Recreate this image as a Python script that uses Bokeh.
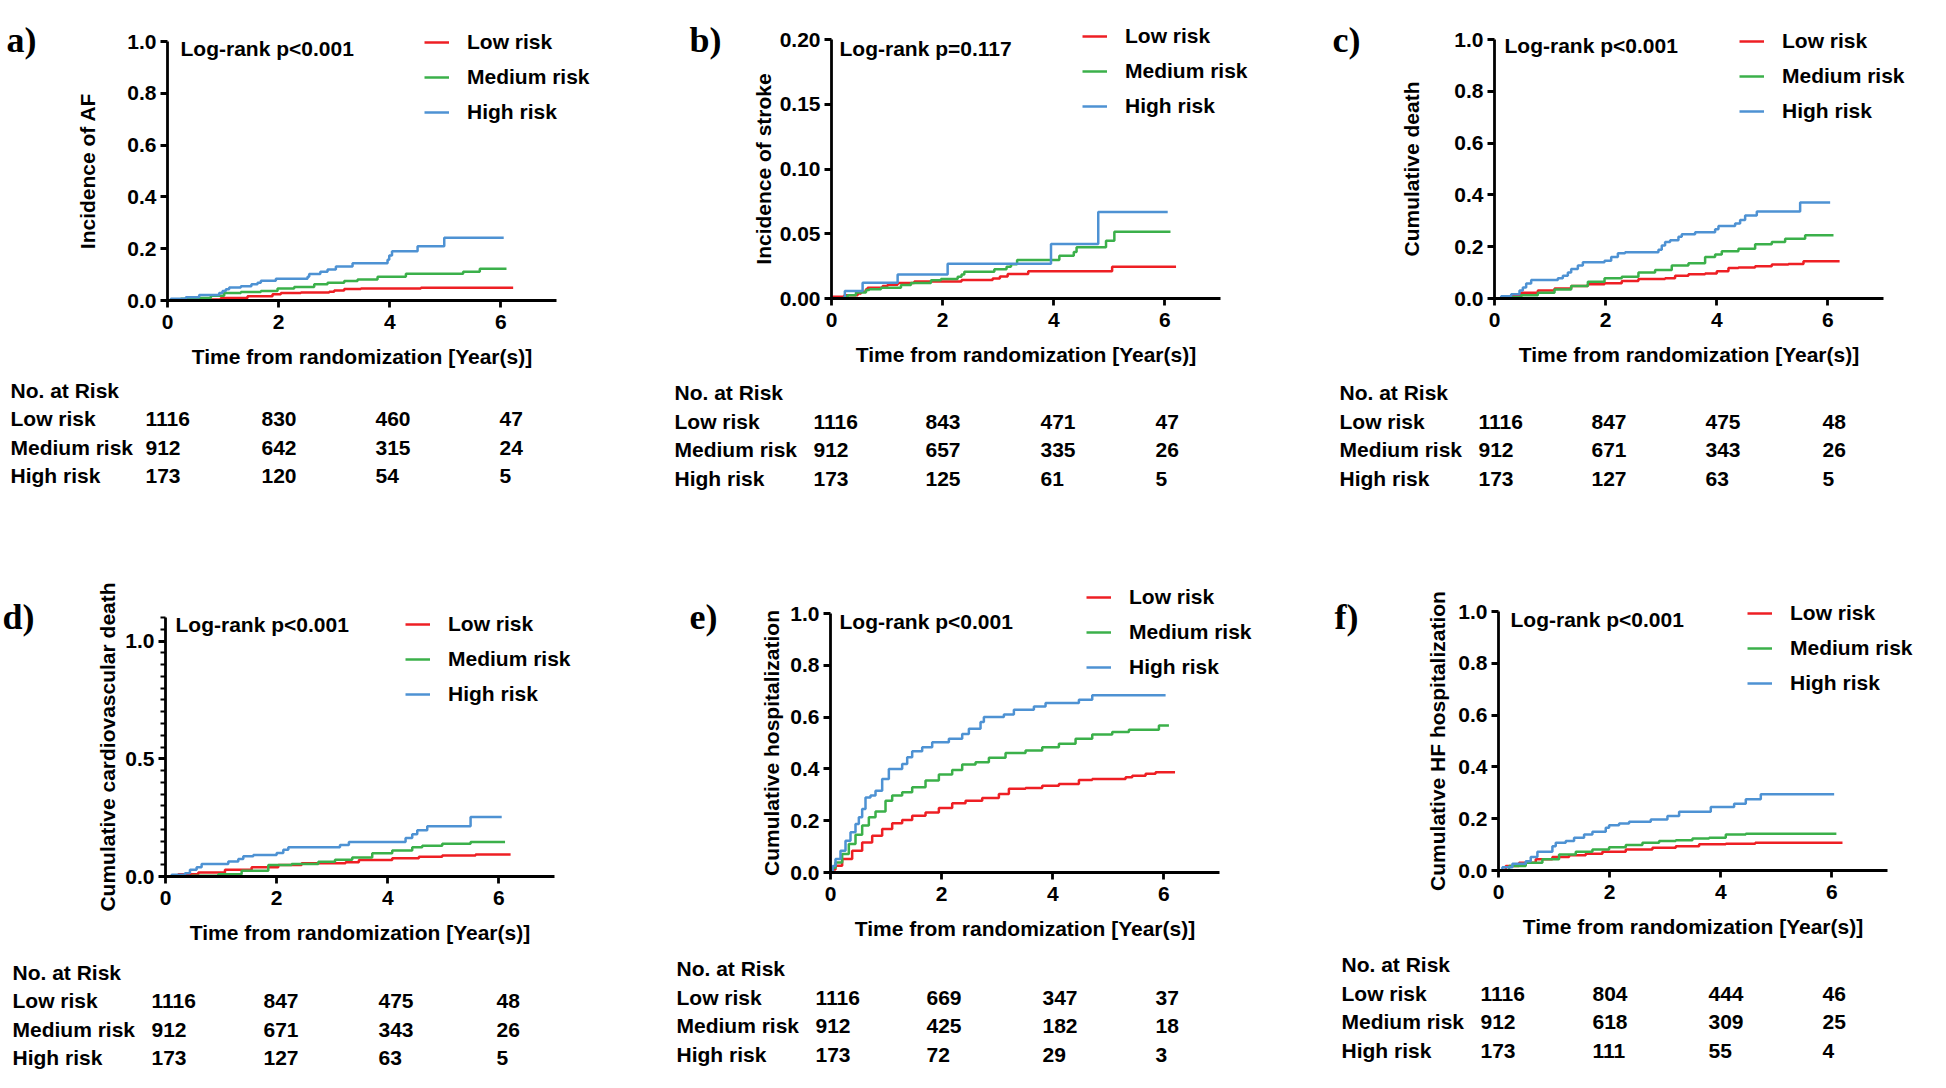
import math
from bokeh.plotting import figure
from bokeh.models import (Range1d, FixedTicker, PrintfTickFormatter, Label, LabelSet,
                          ColumnDataSource, Legend, LegendItem)
from bokeh.layouts import row, column
from bokeh.core.properties import value
from bokeh.embed import file_html
from bokeh.resources import INLINE

SANS = "Liberation Sans"
SERIF = "Liberation Serif"
FS = "21px"

groups = ["Low risk", "Medium risk", "High risk"]
colors = ["#EE1F24", "#3BB04A", "#4E92D3"]
time_ticks = [0, 2, 4, 6]
x_title = "Time from randomization [Year(s)]"

# ---------------- a) Incidence of AF ----------------
a_low_t = [0, 0.48, 0.96, 1.44, 1.89, 2.04, 2.40, 2.91, 3.00, 3.18, 3.48, 4.56, 6.22]
a_low_y = [0, 0.004, 0.01, 0.016, 0.024, 0.029, 0.031, 0.034, 0.039, 0.044, 0.046, 0.049, 0.049]
a_med_t = [0, 0.24, 0.48, 0.78, 1.02, 1.32, 1.68, 1.98, 2.28, 2.64, 2.88, 3.18, 3.42, 3.78, 4.29, 5.32, 5.62, 6.10]
a_med_y = [0, 0.007, 0.01, 0.018, 0.029, 0.033, 0.037, 0.046, 0.052, 0.063, 0.069, 0.075, 0.081, 0.092, 0.103, 0.111, 0.123, 0.123]
a_high_t = [0, 0.06, 0.33, 0.57, 0.93, 0.99, 1.05, 1.11, 1.32, 1.51, 1.62, 1.68, 1.95, 2.52, 2.55, 2.75, 2.88, 3.03,
            3.33, 3.96, 3.99, 4.04, 4.50, 4.98, 6.05]
a_high_y = [0, 0.007, 0.013, 0.021, 0.029, 0.037, 0.043, 0.05, 0.055, 0.063, 0.069, 0.076, 0.084, 0.092, 0.102, 0.111,
            0.12, 0.131, 0.144, 0.157, 0.174, 0.19, 0.209, 0.242, 0.242]
a_risk_low = [1116, 830, 460, 47]
a_risk_med = [912, 642, 315, 24]
a_risk_high = [173, 120, 54, 5]

# ---------------- b) Incidence of stroke ----------------
b_low_t = [0, 0.02, 0.23, 0.47, 0.53, 0.62, 0.65, 0.92, 1.01, 1.19, 1.49, 2.34, 2.90, 3.03, 3.17, 3.54, 5.05, 6.20]
b_low_y = [0, 0.0013, 0.0026, 0.0039, 0.0052, 0.0072, 0.0083, 0.0096, 0.0106, 0.0119, 0.0132, 0.0142, 0.0155, 0.017,
           0.019, 0.021, 0.0246, 0.0246]
b_med_t = [0, 0.23, 0.29, 0.44, 0.62, 0.68, 0.89, 1.25, 1.43, 1.79, 1.97, 2.27, 2.34, 2.39, 2.93, 3.15, 3.23, 3.34,
           4.10, 4.36, 4.41, 4.94, 5.09, 6.10]
b_med_y = [0, 0.0013, 0.0026, 0.0047, 0.0065, 0.0072, 0.0083, 0.0104, 0.0119, 0.014, 0.015, 0.0168, 0.0186, 0.0207,
           0.0225, 0.0246, 0.0264, 0.0298, 0.033, 0.036, 0.0396, 0.0445, 0.0515, 0.0515]
b_high_t = [0, 0.24, 0.56, 1.19, 2.09, 3.95, 4.80, 6.05]
b_high_y = [0, 0.0057, 0.0122, 0.0186, 0.0269, 0.042, 0.0668, 0.0668]
b_risk_low = [1116, 843, 471, 47]
b_risk_med = [912, 657, 335, 26]
b_risk_high = [173, 125, 61, 5]

# ---------------- c) Cumulative death ----------------
c_low_t = [0, 0.18, 0.48, 0.78, 1.08, 1.38, 1.68, 1.98, 2.29, 2.59, 3.07, 3.25, 3.49, 3.79, 4.00, 4.21, 4.39, 4.69,
           4.99, 5.29, 5.56, 6.21]
c_low_y = [0, 0.009, 0.022, 0.031, 0.039, 0.048, 0.055, 0.059, 0.068, 0.075, 0.078, 0.088, 0.094, 0.097, 0.105, 0.118,
           0.12, 0.125, 0.131, 0.133, 0.144, 0.144]
c_med_t = [0, 0.18, 0.48, 0.78, 1.08, 1.38, 1.68, 1.98, 2.29, 2.59, 2.89, 3.19, 3.49, 3.79, 3.97, 4.09, 4.39, 4.69,
           4.99, 5.23, 5.59, 6.10]
c_med_y = [0, 0.005, 0.013, 0.022, 0.035, 0.048, 0.065, 0.078, 0.084, 0.10, 0.11, 0.127, 0.136, 0.16, 0.17, 0.182,
           0.192, 0.209, 0.218, 0.231, 0.244, 0.244]
c_high_t = [0, 0.12, 0.30, 0.45, 0.51, 0.57, 0.66, 1.14, 1.23, 1.32, 1.38, 1.50, 1.59, 1.98, 2.10, 2.22, 2.35, 2.95,
            3.01, 3.07, 3.16, 3.31, 3.37, 3.61, 3.97, 4.03, 4.33, 4.42, 4.51, 4.72, 5.50, 6.04]
c_high_y = [0, 0.009, 0.016, 0.031, 0.042, 0.058, 0.071, 0.078, 0.088, 0.10, 0.114, 0.127, 0.14, 0.146, 0.16, 0.175,
            0.179, 0.188, 0.205, 0.218, 0.225, 0.238, 0.248, 0.256, 0.267, 0.28, 0.29, 0.303, 0.32, 0.336, 0.371, 0.371]
c_risk_low = [1116, 847, 475, 48]
c_risk_med = [912, 671, 343, 26]
c_risk_high = [173, 127, 63, 5]

# ---------------- d) Cumulative cardiovascular death ----------------
d_low_t = [0, 0.23, 0.59, 1.07, 1.55, 2.03, 2.45, 3.24, 3.48, 4.08, 4.56, 4.98, 5.58, 6.21]
d_low_y = [0, 0.01, 0.017, 0.029, 0.039, 0.049, 0.056, 0.06, 0.07, 0.077, 0.084, 0.089, 0.093, 0.093]
d_med_t = [0, 0.47, 0.95, 1.37, 1.85, 2.27, 2.75, 3.05, 3.36, 3.72, 4.08, 4.44, 4.62, 4.98, 5.49, 6.11]
d_med_y = [0, 0.003, 0.01, 0.024, 0.049, 0.053, 0.063, 0.071, 0.081, 0.099, 0.11, 0.124, 0.131, 0.139, 0.146, 0.146]
d_high_t = [0, 0.11, 0.35, 0.44, 0.56, 0.65, 1.13, 1.31, 1.40, 1.58, 2.00, 2.12, 2.21, 3.14, 3.30, 4.32, 4.44, 4.53,
            4.71, 5.49, 6.05]
d_high_y = [0, 0.007, 0.014, 0.029, 0.039, 0.053, 0.064, 0.074, 0.086, 0.091, 0.10, 0.114, 0.124, 0.134, 0.146, 0.163,
            0.179, 0.196, 0.213, 0.253, 0.253]
d_risk_low = [1116, 847, 475, 48]
d_risk_med = [912, 671, 343, 26]
d_risk_high = [173, 127, 63, 5]

# ---------------- e) Cumulative hospitalization ----------------
e_low_t = [0, 0.04, 0.09, 0.21, 0.39, 0.57, 0.75, 0.93, 1.11, 1.29, 1.47, 1.71, 1.95, 2.19, 2.43, 2.73, 3.03, 3.21,
           3.51, 3.81, 4.11, 4.47, 4.71, 5.31, 5.43, 5.67, 5.85, 6.20]
e_low_y = [0, 0.012, 0.026, 0.052, 0.084, 0.116, 0.142, 0.168, 0.19, 0.203, 0.219, 0.232, 0.249, 0.267, 0.277, 0.288,
           0.303, 0.323, 0.326, 0.335, 0.342, 0.357, 0.361, 0.368, 0.374, 0.381, 0.387, 0.387]
e_med_t = [0, 0.04, 0.09, 0.21, 0.33, 0.45, 0.57, 0.69, 0.81, 0.99, 1.11, 1.29, 1.47, 1.71, 1.95, 2.19, 2.37, 2.61,
           2.85, 3.15, 3.51, 3.81, 4.11, 4.41, 4.71, 5.07, 5.37, 5.91, 6.09]
e_med_y = [0, 0.018, 0.039, 0.071, 0.11, 0.146, 0.181, 0.213, 0.236, 0.277, 0.297, 0.31, 0.329, 0.355, 0.378, 0.396,
           0.417, 0.426, 0.443, 0.461, 0.471, 0.484, 0.497, 0.516, 0.533, 0.542, 0.551, 0.568, 0.568]
e_high_t = [0, 0.04, 0.09, 0.18, 0.27, 0.36, 0.45, 0.51, 0.57, 0.63, 0.72, 0.81, 0.93, 1.05, 1.29, 1.38, 1.47, 1.65,
            1.83, 2.13, 2.37, 2.49, 2.70, 2.76, 3.12, 3.30, 3.66, 3.87, 4.47, 4.71, 6.03]
e_high_y = [0, 0.025, 0.052, 0.084, 0.123, 0.155, 0.187, 0.213, 0.245, 0.29, 0.297, 0.316, 0.361, 0.40, 0.419, 0.445,
            0.468, 0.484, 0.503, 0.516, 0.535, 0.555, 0.581, 0.60, 0.61, 0.628, 0.641, 0.654, 0.667, 0.684, 0.684]
e_risk_low = [1116, 669, 347, 37]
e_risk_med = [912, 425, 182, 18]
e_risk_high = [173, 72, 29, 3]

# ---------------- f) Cumulative HF hospitalization ----------------
f_low_t = [0, 0.13, 0.37, 0.67, 0.97, 1.27, 1.57, 1.87, 2.29, 2.77, 3.19, 3.61, 4.09, 4.62, 6.19]
f_low_y = [0, 0.017, 0.03, 0.043, 0.052, 0.059, 0.065, 0.072, 0.081, 0.088, 0.094, 0.101, 0.103, 0.107, 0.107]
f_med_t = [0, 0.19, 0.49, 0.79, 1.09, 1.39, 1.69, 1.99, 2.29, 2.59, 2.89, 3.19, 3.49, 3.79, 4.09, 4.45, 6.08]
f_med_y = [0, 0.017, 0.03, 0.043, 0.062, 0.072, 0.081, 0.09, 0.098, 0.107, 0.114, 0.117, 0.124, 0.126, 0.139, 0.142,
           0.142]
f_high_t = [0, 0.07, 0.25, 0.49, 0.58, 0.70, 0.97, 1.03, 1.21, 1.36, 1.54, 1.69, 1.93, 1.99, 2.17, 2.35, 2.74, 3.04,
            3.25, 3.82, 4.24, 4.45, 4.72, 6.04]
f_high_y = [0, 0.013, 0.026, 0.036, 0.052, 0.072, 0.094, 0.107, 0.114, 0.126, 0.139, 0.15, 0.165, 0.175, 0.181, 0.188,
            0.197, 0.21, 0.227, 0.245, 0.258, 0.275, 0.294, 0.294]
f_risk_low = [1116, 804, 444, 46]
f_risk_med = [912, 618, 309, 25]
f_risk_high = [173, 111, 55, 4]

y_ticks_unit = [0, 0.2, 0.4, 0.6, 0.8, 1.0]
y_ticks_stroke = [0, 0.05, 0.10, 0.15, 0.20]
y_ticks_cv = [0, 0.5, 1.0]
y_minor_cv = [round(0.05 * k, 2) for k in range(23)]

# ---------------- layout geometry (pixels) ----------------
FW, FH = 389, 259   # size of the axes box (x 0..7, y 0..ymax)


def panel(letter, ytitle, logrank, ymax, yticks, yfmt, series, risk, g, minor=None):
    ox, oy = g["origin"]
    cx, cy, cw, ch = g["cell"]
    ppx = FW / 7.0
    ppy = FH / ymax
    xr = Range1d((cx - ox) / ppx, (cx + cw - ox) / ppx)
    yr = Range1d(-(cy + ch - oy) / ppy, (oy - cy) / ppy)
    p = figure(width=cw, height=ch, x_range=xr, y_range=yr,
               output_backend="svg", toolbar_location=None,
               min_border_left=0, min_border_top=0, min_border_right=0, min_border_bottom=0)
    p.outline_line_color = None
    p.xgrid.visible = False
    p.ygrid.visible = False

    items = []
    for (t, y), name, col in zip(series, groups, colors):
        r = p.step(t, y, mode="after", line_color=col, line_width=2.5)
        items.append(LegendItem(label=name, renderers=[r]))

    xa = p.xaxis[0]
    ya = p.yaxis[0]
    xa.fixed_location = 0
    ya.fixed_location = 0
    xa.bounds = (0, 7)
    ya.bounds = (0, ymax)
    xa.ticker = FixedTicker(ticks=time_ticks)
    ya.ticker = FixedTicker(ticks=yticks, minor_ticks=minor or [])
    ya.formatter = PrintfTickFormatter(format=yfmt)
    for ax in (xa, ya):
        ax.axis_line_width = 2.8
        ax.axis_line_color = "black"
        ax.major_tick_line_width = 2.8
        ax.major_tick_line_color = "black"
        ax.major_tick_out = 7
        ax.major_tick_in = 0
        ax.minor_tick_out = 5
        ax.minor_tick_in = 0
        ax.minor_tick_line_width = 2
        ax.minor_tick_line_color = "black"
        ax.major_label_text_font = SANS
        ax.major_label_text_font_style = "bold"
        ax.major_label_text_font_size = FS
        ax.major_label_text_color = "black"
    xa.minor_tick_line_color = None
    if not minor:
        ya.minor_tick_line_color = None
    xa.major_label_standoff = 7
    ya.major_label_standoff = 4

    def txt(x, y, text, size=FS, font=SANS, align="left", angle=0.0):
        p.add_layout(Label(x=x, y=y, text=text, text_font=font, text_font_style="bold",
                           text_font_size=size, text_baseline="middle", text_align=align,
                           text_color="black", angle=angle))

    # axis titles
    txt(3.5, -56 / ppy, x_title, align="center")
    txt(-g["ytx"] / ppx, ymax / 2, ytitle, align="center", angle=math.pi / 2)

    # legend
    item_h, spacing = 24, 11
    leg_h = 3 * item_h + 2 * spacing
    lx, ly1 = g["legend"]
    top_px = (oy - FH - cy) + ly1 - item_h / 2
    leg = Legend(items=items, location=(ox - cx + lx, ch - top_px - leg_h),
                 border_line_color=None, background_fill_alpha=0, padding=0, margin=0,
                 spacing=spacing, glyph_width=25, glyph_height=item_h, label_height=item_h,
                 label_standoff=18, label_text_font=SANS, label_text_font_style="bold",
                 label_text_font_size=FS, label_text_color="black")
    p.add_layout(leg)

    # log-rank text and panel letter
    lrx, lry = g["logrank"]
    txt(lrx / ppx, ymax - lry / ppy, logrank)
    plx, ply = g["letter"]
    txt(plx / ppx, ymax - ply / ppy, letter, size="36px", font=SERIF)

    # number at risk table
    rows_y = [-v / ppy for v in g["rows"]]
    lab_x = g["labx"] / ppx
    src_lab = ColumnDataSource(dict(x=[lab_x] * 4, y=rows_y, text=["No. at Risk"] + groups))
    xs, ys, tx = [], [], []
    for i, counts in enumerate(risk):
        for j, n in enumerate(counts):
            xs.append(g["cols"][j] / ppx)
            ys.append(rows_y[i + 1])
            tx.append(str(n))
    src_num = ColumnDataSource(dict(x=xs, y=ys, text=tx))
    for src in (src_lab, src_num):
        p.add_layout(LabelSet(x="x", y="y", text="text", source=src, text_font=value(SANS),
                              text_font_style="bold", text_font_size=FS, text_baseline="middle",
                              text_align="left", text_color="black"))
    return p


C1, C2, C3 = (0, 668), (668, 662), (1330, 614)
R1, R2 = (0, 575), (575, 511)

geo_a = dict(origin=(167, 300), cell=(C1[0], R1[0], C1[1], R1[1]), ytx=80, legend=(257, 1), logrank=(13, 7),
             letter=(-161, -2), rows=[90, 118, 147, 175], labx=-157, cols=[-22, 94, 208, 332])
geo_b = dict(origin=(831, 298), cell=(C2[0], R1[0], C2[1], R1[1]), ytx=68, legend=(251, -3.5), logrank=(8, 9),
             letter=(-142, 0), rows=[94, 123, 151, 180], labx=-157, cols=[-18, 94, 209, 324])
geo_c = dict(origin=(1494, 298), cell=(C3[0], R1[0], C3[1], R1[1]), ytx=83, legend=(245, 1.5), logrank=(10, 6),
             letter=(-162, 0), rows=[94, 123, 151, 180], labx=-155, cols=[-16, 97, 211, 328])
geo_d = dict(origin=(165, 876), cell=(C1[0], R2[0], C1[1], R2[1]), ytx=58, legend=(240, 7), logrank=(10, 7),
             letter=(-163, -1), rows=[96, 124, 153, 181], labx=-153, cols=[-14, 98, 213, 331])
geo_e = dict(origin=(830, 872), cell=(C2[0], R2[0], C2[1], R2[1]), ytx=59, legend=(256, -16), logrank=(9, 8),
             letter=(-141, 3), rows=[96, 125, 153, 182], labx=-154, cols=[-15, 96, 212, 325])
geo_f = dict(origin=(1498, 870), cell=(C3[0], R2[0], C3[1], R2[1]), ytx=61, legend=(249, 2), logrank=(12, 8),
             letter=(-164, 5), rows=[94, 123, 151, 180], labx=-157, cols=[-18, 94, 210, 324])

pa = panel("a)", "Incidence of AF", "Log-rank p<0.001", 1.0, y_ticks_unit, "%.1f",
           [(a_low_t, a_low_y), (a_med_t, a_med_y), (a_high_t, a_high_y)],
           [a_risk_low, a_risk_med, a_risk_high], geo_a)
pb = panel("b)", "Incidence of stroke", "Log-rank p=0.117", 0.2, y_ticks_stroke, "%.2f",
           [(b_low_t, b_low_y), (b_med_t, b_med_y), (b_high_t, b_high_y)],
           [b_risk_low, b_risk_med, b_risk_high], geo_b)
pc = panel("c)", "Cumulative death", "Log-rank p<0.001", 1.0, y_ticks_unit, "%.1f",
           [(c_low_t, c_low_y), (c_med_t, c_med_y), (c_high_t, c_high_y)],
           [c_risk_low, c_risk_med, c_risk_high], geo_c)
pd_ = panel("d)", "Cumulative cardiovascular death", "Log-rank p<0.001", 1.1, y_ticks_cv, "%.1f",
            [(d_low_t, d_low_y), (d_med_t, d_med_y), (d_high_t, d_high_y)],
            [d_risk_low, d_risk_med, d_risk_high], geo_d, minor=y_minor_cv)
pe = panel("e)", "Cumulative hospitalization", "Log-rank p<0.001", 1.0, y_ticks_unit, "%.1f",
           [(e_low_t, e_low_y), (e_med_t, e_med_y), (e_high_t, e_high_y)],
           [e_risk_low, e_risk_med, e_risk_high], geo_e)
pf = panel("f)", "Cumulative HF hospitalization", "Log-rank p<0.001", 1.0, y_ticks_unit, "%.1f",
           [(f_low_t, f_low_y), (f_med_t, f_med_y), (f_high_t, f_high_y)],
           [f_risk_low, f_risk_med, f_risk_high], geo_f)

layout = column(row(pa, pb, pc), row(pd_, pe, pf))
open("out.html", "w").write(file_html(layout, INLINE))
